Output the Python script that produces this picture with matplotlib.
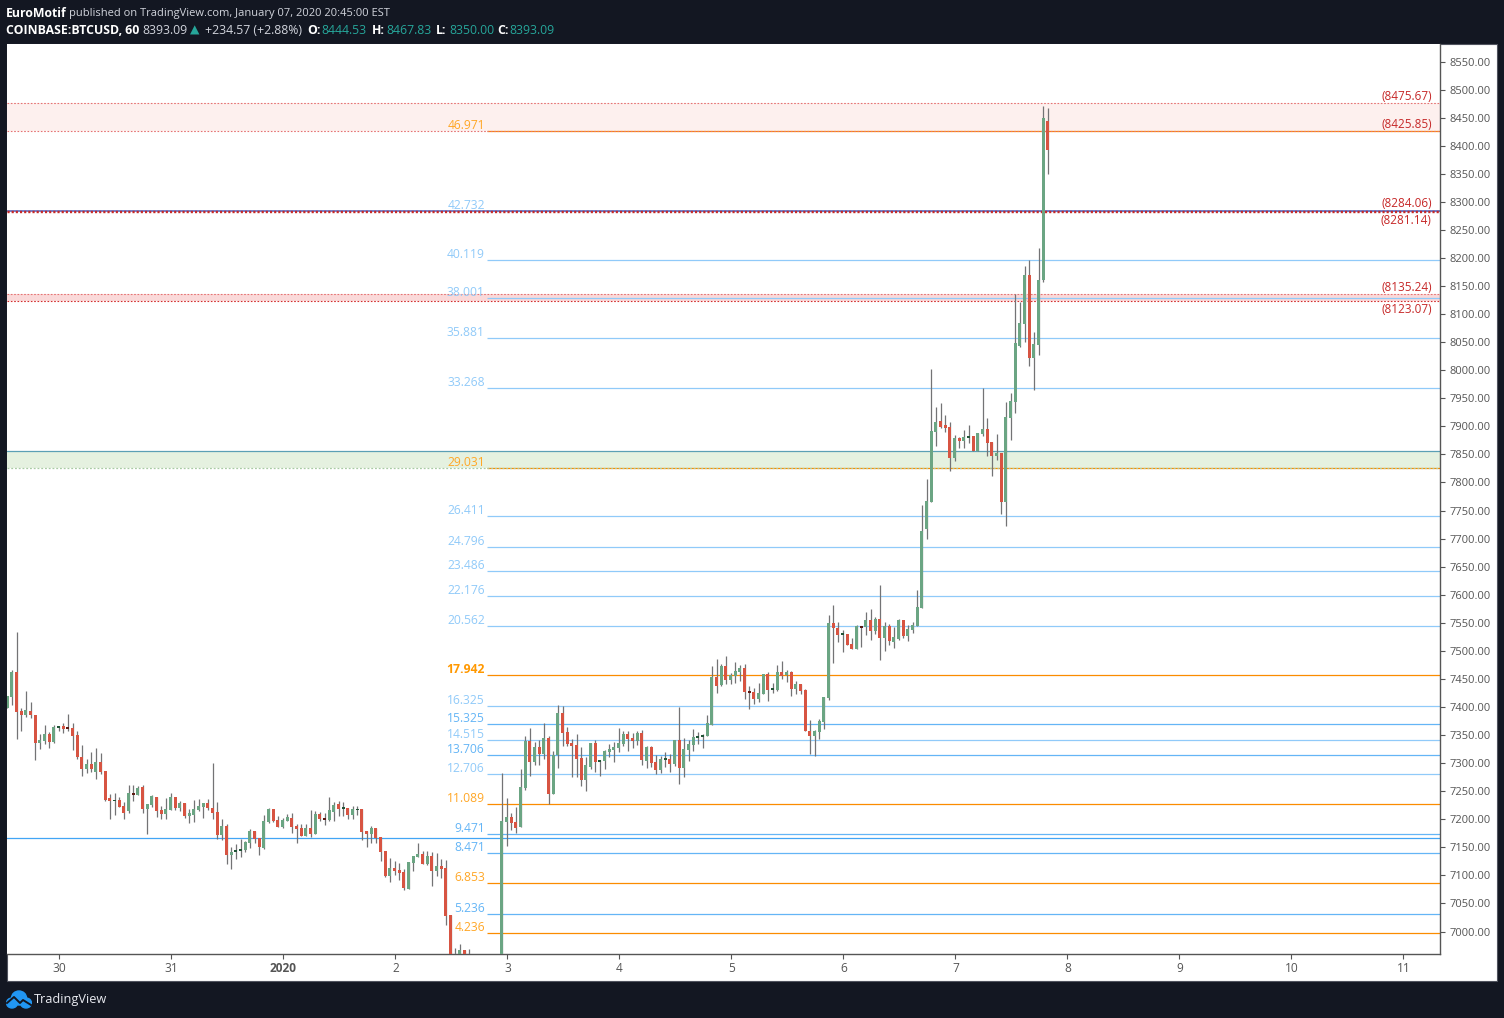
import matplotlib
matplotlib.use("Agg")
import matplotlib.pyplot as plt
from matplotlib.patches import Rectangle, Ellipse
import numpy as np

plt.rcParams['font.family'] = ['Open Sans', 'DejaVu Sans']

# hourly candles, first one is 29 Dec 13:00, hour 0 is 30 Dec 00:00
opens = [7399,7418,7462,7393,7386,7393,7386,7336,7339,7352,7338,
    7363,7366,7363,7363,7350,7311,7289,7298,7284,7302,
    7286,7238,7232,7234,7224,7215,7247,7243,7257,7218,
    7225,7240,7216,7209,7216,7240,7220,7229,7206,7207,
    7216,7222,7229,7220,7213,7172,7188,7136,7142,7143,
    7145,7158,7179,7167,7149,7195,7218,7199,7186,7197,
    7202,7188,7184,7170,7184,7174,7209,7202,7199,7213,
    7227,7218,7220,7208,7216,7218,7179,7174,7184,7168,
    7143,7099,7113,7110,7106,7076,7122,7133,7138,7120,
    7135,7108,7117,7113,7029,6905,6935,6967,6935,6945,
    6930,6940,6935,6925,6935,6930,7195,7204,7195,7186,
    7256,7339,7302,7329,7316,7345,7245,7314,7389,7355,
    7336,7332,7309,7270,7293,7336,7302,7304,7320,7323,
    7327,7334,7352,7345,7339,7354,7304,7329,7302,7288,
    7306,7307,7298,7341,7291,7323,7332,7345,7347,7348,
    7368,7453,7439,7473,7448,7455,7462,7469,7428,7427,
    7414,7423,7459,7430,7430,7462,7457,7462,7432,7441,
    7430,7357,7348,7355,7373,7416,7550,7541,7528,7530,
    7512,7503,7544,7542,7555,7535,7557,7523,7544,7516,
    7521,7555,7526,7537,7544,7576,7717,7765,7890,7910,
    7902,7899,7844,7879,7874,7879,7883,7856,7886,7895,
    7872,7847,7852,7765,7915,7943,8043,8082,8170,8022,
    8045,8161,8444.53]
highs = [7420,7466,7534,7398,7428,7409,7386,7352,7368,7355,7368,
    7366,7371,7388,7371,7357,7332,7307,7320,7327,7318,
    7286,7245,7247,7240,7231,7261,7261,7259,7261,7227,
    7243,7240,7224,7238,7247,7240,7232,7229,7218,7234,
    7236,7229,7236,7300,7231,7200,7191,7150,7156,7165,
    7161,7183,7179,7167,7208,7220,7218,7206,7202,7209,
    7211,7192,7192,7192,7216,7215,7213,7211,7240,7231,
    7233,7231,7220,7224,7224,7218,7179,7188,7184,7168,
    7143,7131,7126,7122,7111,7124,7135,7158,7143,7143,
    7142,7140,7130,7127,7029,6971,6978,6967,6969,6955,
    6950,6955,6950,6945,6950,7282,7238,7211,7222,7290,
    7348,7363,7338,7341,7372,7348,7322,7404,7402,7364,
    7343,7352,7329,7311,7336,7341,7306,7323,7334,7338,
    7363,7357,7357,7354,7357,7359,7331,7331,7314,7313,
    7320,7316,7341,7400,7345,7341,7361,7355,7352,7386,
    7473,7486,7477,7491,7461,7480,7475,7477,7437,7434,
    7443,7459,7462,7443,7475,7482,7466,7464,7446,7441,
    7432,7377,7359,7379,7418,7564,7582,7551,7537,7530,
    7523,7546,7544,7569,7575,7560,7617,7551,7548,7542,
    7557,7555,7546,7551,7608,7760,7806,8002,7934,7942,
    7920,7908,7885,7881,7893,7902,7883,7888,7968,7915,
    7872,7886,7852,7943,7959,8136,8121,8186,8196,8068,
    8218,8471,8467.83]
lows = [7399,7403,7343,7357,7382,7380,7306,7325,7334,7327,7336,
    7357,7354,7357,7323,7307,7277,7282,7284,7272,7281,
    7232,7200,7207,7222,7200,7211,7232,7243,7211,7174,
    7222,7204,7200,7200,7216,7216,7215,7202,7193,7195,
    7215,7202,7216,7200,7165,7163,7120,7111,7129,7133,
    7142,7149,7158,7136,7147,7193,7195,7186,7184,7197,
    7176,7158,7170,7170,7168,7174,7197,7190,7197,7197,
    7206,7206,7200,7200,7208,7163,7150,7158,7158,7126,
    7097,7088,7101,7092,7074,7076,7108,7133,7120,7118,
    7081,7099,7095,7012,6900,6885,6915,6920,6915,6925,
    6915,6925,6910,6905,6920,6915,7152,7181,7176,7186,
    7252,7277,7297,7297,7307,7227,7245,7291,7331,7331,
    7275,7275,7259,7250,7290,7284,7277,7290,7311,7302,
    7320,7331,7322,7327,7332,7297,7291,7293,7281,7282,
    7293,7284,7295,7263,7275,7304,7322,7334,7327,7348,
    7368,7425,7437,7441,7441,7443,7446,7414,7396,7405,
    7409,7423,7411,7425,7428,7450,7444,7419,7423,7423,
    7357,7316,7313,7343,7361,7412,7478,7516,7498,7510,
    7503,7503,7507,7528,7519,7530,7484,7500,7510,7505,
    7519,7523,7517,7532,7544,7576,7699,7765,7865,7897,
    7890,7820,7838,7861,7861,7870,7856,7856,7883,7847,
    7811,7840,7744,7722,7876,7924,8041,8050,8007,7965,
    8027,8157,8350]
closes = [7420,7462,7391,7386,7395,7386,7336,7341,7352,7338,7364,
    7366,7361,7361,7348,7311,7289,7298,7289,7302,7284,
    7234,7232,7234,7222,7211,7247,7243,7256,7218,7227,
    7241,7215,7209,7218,7240,7220,7229,7206,7211,7218,
    7224,7229,7220,7211,7172,7188,7136,7142,7145,7147,
    7159,7179,7165,7150,7197,7218,7197,7186,7199,7204,
    7186,7183,7170,7184,7174,7209,7200,7199,7216,7225,
    7218,7220,7208,7218,7218,7177,7174,7184,7167,7142,
    7099,7113,7108,7104,7077,7124,7135,7138,7120,7135,
    7108,7117,7111,7028,6915,6935,6967,6935,6945,6930,
    6940,6935,6925,6935,6930,7197,7204,7193,7184,7257,
    7339,7302,7329,7316,7345,7245,7314,7389,7354,7334,
    7331,7307,7270,7297,7336,7302,7306,7322,7325,7329,
    7336,7352,7343,7339,7354,7306,7329,7300,7288,7307,
    7307,7298,7341,7291,7325,7334,7347,7348,7350,7372,
    7453,7437,7473,7448,7457,7464,7469,7427,7425,7414,
    7425,7459,7430,7434,7462,7455,7462,7432,7441,7428,
    7357,7348,7357,7375,7418,7550,7541,7528,7530,7510,
    7503,7544,7541,7555,7535,7557,7523,7544,7518,7525,
    7555,7526,7539,7546,7578,7713,7767,7892,7908,7899,
    7897,7844,7879,7874,7881,7883,7856,7888,7895,7870,
    7847,7852,7765,7917,7945,8048,8084,8170,8022,8047,
    8161,8449,8393.09]

# fib extension levels: label, price, colour group
fib_labels = ["46.971","42.732","40.119","38.001","35.881","33.268","29.031","26.411","24.796",
    "23.486","22.176","20.562","17.942","16.325","15.325","14.515","13.706","12.706",
    "11.089","9.471","8.471","6.853","5.236","4.236"]
fib_prices = [8426.5,8283,8197,8128.7,8057.4,7968,7826.5,7740,7685,
    7642,7597.7,7544,7457,7401.8,7370,7341,7314.6,7280.7,
    7227,7173.8,7140,7086.8,7031.6,6997.8]
fib_groups = ["o","l","l","l","l","l","o","l","l",
    "l","l","l","O","l","d","l","d","l",
    "o","d","d","o","d","o"]
fib_colors = {"o": "#FFA726", "O": "#FF9800", "l": "#90CAF9", "d": "#64B5F6"}

# red zone levels
zone_prices = [8475.67,8425.85,8284.06,8281.14,8135.24,8123.07]
zone_offset = [7,7,7,-8,7,-8]
green_top = 7856
green_bottom = 7826
blue_line = 7166.6

price_ticks = [8550 - 50*i for i in range(32)]
date_labels = ["30","31","2020","2","3","4","5","6","7","8","9","10","11"]

BG = "#131722"
W, H = 1504, 1018


def fx(x):
    return x/W


def fy(y):
    return 1 - y/H


fig = plt.figure(figsize=(15.04, 10.18), dpi=100, facecolor=BG)
fig.add_artist(Rectangle((fx(7), fy(981)), (1497-7)/W, (981-44)/H, transform=fig.transFigure,
                         facecolor="white", edgecolor="#50535E", linewidth=0.8, zorder=-5))

ax = fig.add_axes([fx(7), fy(954), (1440-7)/W, (954-44)/H])
ax.set_xlim(-11.06, 296)
ax.set_ylim(6960, 8581.2)
for s in ["top", "left"]:
    ax.spines[s].set_visible(False)
ax.spines["right"].set_color("#555555")
ax.spines["bottom"].set_color("#555555")
ax.spines["right"].set_linewidth(1.0)
ax.spines["bottom"].set_linewidth(1.0)

hours = np.arange(len(opens)) - 11
xmin, xmax = ax.get_xlim()
fib_start = 91.8

# zones
ax.axhspan(zone_prices[1], zone_prices[0], color="#FDF0EE", lw=0, zorder=1)
ax.axhspan(zone_prices[5], zone_prices[4], color="#FAD9D9", lw=0, zorder=1)
ax.axhspan(green_bottom, green_top, color="#E5F1E0", lw=0, zorder=1)

# fib lines go behind the candles
for lab, p, g in zip(fib_labels, fib_prices, fib_groups):
    col = fib_colors[g]
    line_col = "#FB8C00" if g in "oO" else col
    ax.hlines(p, fib_start, xmax, color=line_col, lw=0.9, zorder=2)
    weight = "bold" if g == "O" else "normal"
    ax.annotate(lab, (91.35, p), xytext=(0, 3.9), textcoords="offset points", ha="right", va="center",
                color=col, fontsize=8.7, fontweight=weight, zorder=6)

ax.axhline(blue_line, color="#42A5F5", lw=0.9, zorder=2)
ax.axhline(8283, color="#5C6BC0", lw=1.2, zorder=2)
ax.axhline(green_top, color="#5B9FB5", lw=0.9, zorder=2)
ax.axhline(green_bottom, color="#A9CBA4", lw=0.9, ls=(0, (1.5, 1.5)), zorder=2)

for p, off in zip(zone_prices, zone_offset):
    lw = 1.0 if p in (8284.06, 8281.14) else 0.8
    col = "#C62828" if p in (8284.06, 8281.14) else "#E57373"
    if p == 8123.07:
        col = "#D32F2F"
    ax.axhline(p, color=col, lw=lw, ls=(0, (1.5, 1.5)), zorder=3)
    ax.annotate("(%.2f)" % p, (xmax, p), xytext=(-6, off*0.72), textcoords="offset points", ha="right",
                va="center", color="#C62828", fontsize=8.5, zorder=6)

# candles
o = np.array(opens)
c = np.array(closes)
up = c >= o
body_colors = []
for i in range(len(o)):
    small = abs(c[i]-o[i]) < 4.5
    if up[i]:
        body_colors.append("#225437" if small else "#6BA583")
    else:
        body_colors.append("#5B1A13" if small else "#D75442")
ax.vlines(hours, lows, highs, color="#737375", lw=0.9, zorder=4)
ax.bar(hours, np.maximum(np.abs(c-o), 3), bottom=np.minimum(o, c), width=0.64, color=body_colors, lw=0, zorder=5)

# axes ticks
ax.yaxis.tick_right()
ax.set_yticks(price_ticks)
ax.set_yticklabels(["%.2f" % p for p in price_ticks])
ax.set_xticks([24*k + 0.17 for k in range(len(date_labels))])
ax.set_xticklabels(date_labels)
ax.tick_params(axis="y", length=3.6, width=0.8, color="#555555", labelcolor="#555555", labelsize=8.0, pad=3.2)
ax.tick_params(axis="x", length=3.6, width=0.8, color="#555555", labelcolor="#555555", labelsize=8.6, pad=2.5)
for t in ax.get_xticklabels():
    if t.get_text() == "2020":
        t.set_fontweight("bold")

# header, pieces placed one after the other
white = "#D1D4DC"
teal = "#26A69A"
header1 = [("EuroMotif", 6, "white", "bold", 8.8),
           ("published on TradingView.com, January 07, 2020 20:45:00 EST", 69, white, "normal", 8.05)]
header2 = [("COINBASE:BTCUSD, 60", 6, "white", "bold", 8.8), ("8393.09", 142, white, "normal", 8.8),
           ("▲", 190, teal, "normal", 8.8), ("+234.57 (+2.88%)", 205, white, "normal", 8.8),
           ("O:", 307, "white", "bold", 8.8), ("8444.53", 321, teal, "normal", 8.8),
           ("H:", 372, "white", "bold", 8.8), ("8467.83", 386, teal, "normal", 8.8),
           ("L:", 436, "white", "bold", 8.8), ("8350.00", 449, teal, "normal", 8.8),
           ("C:", 497, "white", "bold", 8.8), ("8393.09", 509, teal, "normal", 8.8)]
for txt, x, col, w, fs in header1:
    fig.text(fx(x), fy(13.5), txt, color=col, fontweight=w, fontsize=fs, va="center", ha="left")
for txt, x, col, w, fs in header2:
    fig.text(fx(x), fy(30), txt, color=col, fontweight=w, fontsize=fs, va="center", ha="left")

# logo
logo = fig.add_axes([fx(6), fy(1009), 26/W, 20/H])
logo.set_xlim(0, 26)
logo.set_ylim(20, 0)
logo.axis("off")
logo.add_patch(Ellipse((13, 9), 15, 14, color="#2196F3"))
logo.add_patch(Ellipse((6, 14), 11, 10, color="#2196F3"))
logo.add_patch(Ellipse((20, 14), 11, 10, color="#2196F3"))
logo.plot([1, 8, 14, 17, 25], [14, 8, 14, 11, 16], color=BG, lw=1.4)
fig.text(fx(34), fy(999.5), "TradingView", color="#E8EAF0", fontsize=9.2, va="center", ha="left")

fig.savefig("out.png", dpi=100, facecolor=BG)
